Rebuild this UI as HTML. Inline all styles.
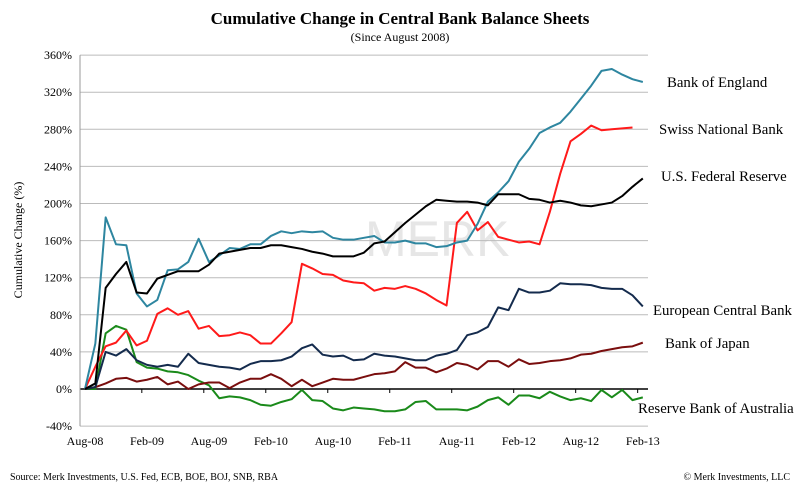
<!DOCTYPE html>
<html><head><meta charset="utf-8"><style>
body{margin:0;background:#fff}
svg text{font-family:"Liberation Serif",serif}
</style></head><body>
<svg id="chart" width="800" height="490" xmlns="http://www.w3.org/2000/svg">
<rect width="800" height="490" fill="#fff"/>
<text x="400" y="24" text-anchor="middle" font-size="17" font-weight="bold">Cumulative Change in Central Bank Balance Sheets</text>
<text x="400" y="41" text-anchor="middle" font-size="12">(Since August 2008)</text>
<text x="365" y="256" fill="#e6e6e6" style="font-family:'Liberation Sans',sans-serif;font-size:50px">MERK</text>
<g id="grid"></g>
<g id="series"></g>
<text transform="translate(22,240) rotate(-90)" text-anchor="middle" font-size="12">Cumulative Change (%)</text>
<text x="10" y="480" font-size="10">Source: Merk Investments, U.S. Fed, ECB, BOE, BOJ, SNB, RBA</text>
<text x="790" y="480" text-anchor="end" font-size="10">© Merk Investments, LLC</text>
</svg>
<script>
const months=["Aug-08","Feb-09","Aug-09","Feb-10","Aug-10","Feb-11","Aug-11","Feb-12","Aug-12","Feb-13"];
const yTicks=[-40,0,40,80,120,160,200,240,280,320,360];
const boe=[0,49,185,156,155,103,89,96,128,129,137,162,137,144,152,151,156,156,165,170,168,170,169,170,163,161,161,163,165,158,158,160,157,157,153,154,158,160,178,202,212,224,245,259,276,282,287,299,313,327,343,345,339,334,331];
const snb=[0,24,46,50,63,47,52,81,87,80,84,65,68,57,58,61,58,49,49,60,72,135,130,124,123,117,115,114,106,109,108,111,108,103,96,90,179,191,171,180,164,161,158,159,156,191,232,267,275,284,279,280,281,282];
const fed=[0,6,109,124,137,104,103,119,123,127,127,127,134,146,148,150,152,152,155,155,153,151,148,146,143,143,143,147,157,159,169,179,188,197,204,203,202,202,201,198,210,210,210,205,204,201,203,201,198,197,199,201,208,218,227];
const ecb=[0,2,40,36,43,31,26,24,26,24,38,28,26,24,23,21,27,30,30,31,35,44,48,37,35,36,31,32,38,36,35,33,31,31,36,38,42,58,61,67,88,85,108,104,104,106,114,113,113,112,109,108,108,101,89];
const boj=[0,2,6,11,12,8,10,13,5,8,0,5,7,7,1,7,11,11,16,11,3,10,3,7,11,10,10,13,16,17,19,29,23,23,18,22,28,26,21,30,30,24,32,27,28,30,31,33,37,38,41,43,45,46,50];
const rba=[0,0,60,68,64,29,23,22,19,18,15,9,4,-10,-8,-9,-12,-17,-18,-14,-11,-1,-12,-13,-21,-23,-20,-21,-22,-24,-24,-22,-14,-13,-22,-22,-22,-23,-19,-12,-9,-17,-7,-7,-10,-3,-8,-12,-10,-13,-1,-9,-1,-12,-9];
const NS="http://www.w3.org/2000/svg";
const x0=85,dx=10.33,left=80,right=648;
const xs=i=>x0+dx*i;
const ys=v=>389-v*37.1/40;
const grid=document.getElementById('grid'),ser=document.getElementById('series'),svg=document.getElementById('chart');
function mk(tag,attrs,parent){const e=document.createElementNS(NS,tag);for(const k in attrs)e.setAttribute(k,attrs[k]);parent.appendChild(e);return e;}
yTicks.forEach(v=>{
  const l=mk('line',{x1:left,x2:right,y1:ys(v),y2:ys(v),stroke:v===0?'#000':'#bbb','stroke-width':v===0?1.5:1},grid);
  
  
  const t=mk('text',{x:72,y:ys(v)+4,'text-anchor':'end','font-size':12},svg);
  t.textContent=v+'%';
  
  
});
const ax=mk('line',{x1:left,x2:left,y1:ys(360),y2:ys(-40),stroke:'#999'},grid);


months.forEach((m,k)=>{
  const t=mk('text',{x:xs(k*6),y:445,'text-anchor':'middle','font-size':12},svg);
  t.textContent=m;
  
  
  if(xs(k*6+5.5)<=right){
    const tk=mk('line',{x1:xs(k*6+5.5),x2:xs(k*6+5.5),y1:389,y2:393,stroke:'#000'},grid);
    
    
  }
});
const defs=[
 [rba,'#1a8a1a','reserve-bank-of-australia-line','Reserve Bank of Australia',638,413],
 [boj,'#7a0e0e','bank-of-japan-line','Bank of Japan',665,348],
 [ecb,'#142b4d','european-central-bank-line','European Central Bank',653,315],
 [snb,'#ff1a1a','swiss-national-bank-line','Swiss National Bank',659,134],
 [boe,'#2e86a0','bank-of-england-line','Bank of England',667,87],
 [fed,'#000','us-federal-reserve-line','U.S. Federal Reserve',661,181]];
defs.forEach(d=>{
  const p=mk('polyline',{points:d[0].map((v,i)=>xs(i)+','+ys(v)).join(' '),fill:'none',stroke:d[1],'stroke-width':2,'stroke-linejoin':'round'},ser);
  
  
  const t=mk('text',{x:d[4],y:d[5],'font-size':14.8},svg);
  t.textContent=d[3];
  
  
});
</script>
</body></html>
